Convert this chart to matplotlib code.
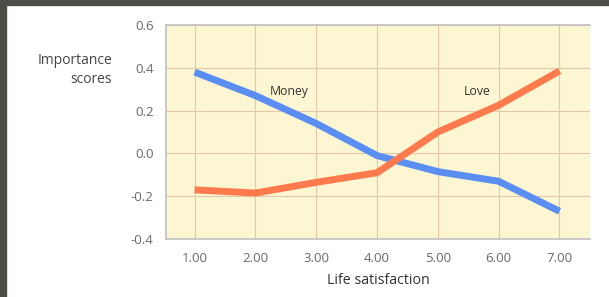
import matplotlib.pyplot as plt
from matplotlib.patches import Rectangle

# data
satisfaction = [1, 2, 3, 4, 5, 6, 7]
money = [0.38, 0.27, 0.14, -0.01, -0.085, -0.13, -0.27]
love = [-0.17, -0.185, -0.135, -0.09, 0.10, 0.225, 0.385]
x_ticks = ['1.00', '2.00', '3.00', '4.00', '5.00', '6.00', '7.00']
y_ticks = [-0.4, -0.2, 0.0, 0.2, 0.4, 0.6]

plt.rcParams['font.family'] = ['Open Sans', 'DejaVu Sans']

fig = plt.figure(figsize=(6.09, 2.97), dpi=100)
fig.patch.set_facecolor('white')
# dark frame strips on top and left edge
fig.patches.append(Rectangle((0, 0.983), 1, 0.017, transform=fig.transFigure,
                             color='#4d4d45', zorder=10))
fig.patches.append(Rectangle((0, 0), 0.01, 1, transform=fig.transFigure,
                             color='#4d4d45', zorder=10))

ax = fig.add_axes([0.2726, 0.195, 0.696, 0.721])
ax.set_facecolor('#fdf6d2')

ax.plot(satisfaction, money, color='#5a8ef2', lw=5, solid_capstyle='butt', zorder=3)
ax.plot(satisfaction, love, color='#ff7a4c', lw=5, solid_capstyle='butt', zorder=3)

ax.text(2.55, 0.29, 'Money', fontsize=8.8, color='#333333', ha='center', va='center')
ax.text(5.65, 0.29, 'Love', fontsize=8.8, color='#333333', ha='center', va='center')

ax.set_xlim(0.53, 7.5)
ax.set_ylim(-0.4, 0.6)
ax.set_xticks(satisfaction)
ax.set_xticklabels(x_ticks)
ax.set_yticks(y_ticks)
ax.set_yticklabels(['%.1f' % v for v in y_ticks])
ax.tick_params(length=0, labelsize=9.5, colors='#6a6a6a', pad=9)
ax.tick_params(axis='y', pad=9)
ax.grid(True, color='#e4c8a8', lw=0.8)
ax.set_axisbelow(True)

for s in ['right']:
    ax.spines[s].set_visible(False)
for s in ['left', 'bottom', 'top']:
    ax.spines[s].set_color('#c0c0c0')
    ax.spines[s].set_linewidth(1.2)

ax.set_xlabel('Life satisfaction', fontsize=10.3, color='#333333', labelpad=6)
fig.text(0.184, 0.764, 'Importance\nscores', fontsize=10, color='#444444',
         ha='right', va='center', linespacing=1.3)

plt.savefig('out.png', dpi=100)
